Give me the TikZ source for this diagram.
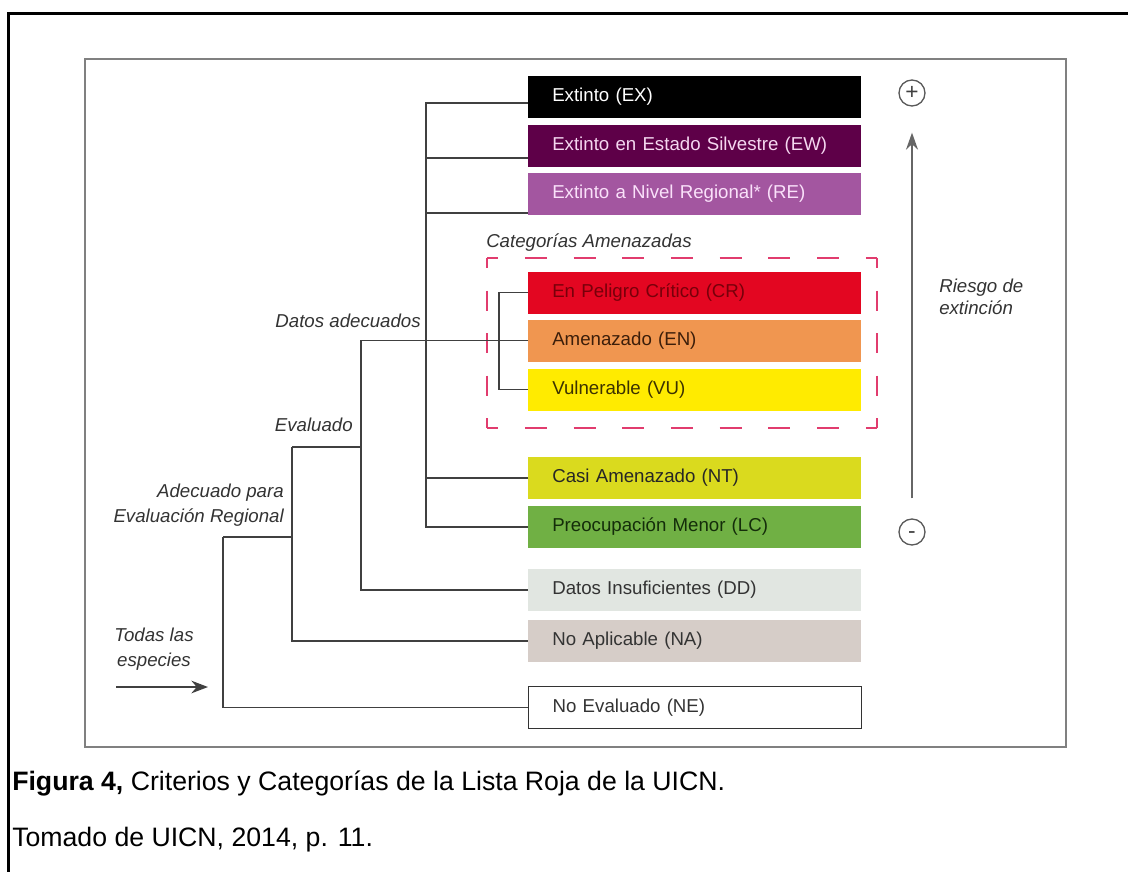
\documentclass[tikz,border=0pt]{standalone}
\usepackage{fontspec}
\setmainfont{Liberation Sans}
\usepackage{tikz}
\usetikzlibrary{calc, arrows.meta}

\definecolor{cEW}{RGB}{94,0,72}
\definecolor{cRE}{RGB}{163,86,160}
\definecolor{cCR}{RGB}{227,6,33}
\definecolor{cEN}{RGB}{240,150,80}
\definecolor{cVU}{RGB}{255,235,0}
\definecolor{cNT}{RGB}{218,218,30}
\definecolor{cLC}{RGB}{112,176,68}
\definecolor{cDD}{RGB}{225,230,225}
\definecolor{cNA}{RGB}{214,205,200}
\definecolor{rosa}{RGB}{225,60,110}

\tikzset{
  categoria/.style={rectangle, anchor=west, minimum width=249.75pt, minimum height=31.5pt,
    inner xsep=18pt, inner ysep=0pt, text width=213.75pt, align=left,
    font=\fontsize{14}{17}\selectfont},
  rama/.style={draw=black!75, line width=1pt},
  etiqueta/.style={font=\itshape\fontsize{14}{18.75}\selectfont, text=black!80, inner sep=0pt},
  signo/.style={circle, draw=black!65, line width=1pt, minimum size=19.5pt, inner sep=0pt,
    font=\fontsize{17}{17}\selectfont, text=black!75},
  amenazah/.style={draw=rosa, line width=1.1pt, dash pattern=on 16.5pt off 20.06pt, dash phase=8.25pt},
  amenazav/.style={draw=rosa, line width=1.1pt, dash pattern=on 15pt off 16.875pt, dash phase=7.5pt}
}

\begin{document}
\begin{tikzpicture}[x=0.75pt, y=-0.75pt]
	\useasboundingbox (0,0) rectangle (1128,872);
	
	%frames
	\draw[black, line width=2.25pt] (1128,13) -- (8,13) -- (8,872);
	\draw[black!50, line width=1.5pt] (85,59) rectangle (1066,747);
	
	%threatened group
	\coordinate (g1) at (487,258);
	\coordinate (g2) at (877,258);
	\coordinate (g3) at (877,428);
	\coordinate (g4) at (487,428);
	\draw[amenazah] (g1) -- (g2);
	\draw[amenazah] (g4) -- (g3);
	\draw[amenazav] (g1) -- (g4);
	\draw[amenazav] (g2) -- (g3);
	\node[etiqueta, anchor=west] (amen) at (486,243) {Categorías Amenazadas};
	
	%categories
	\node[categoria, fill=black, text=white]          (ex) at (528,97)    {Extinto (EX)};
	\node[categoria, fill=cEW, text={rgb,255:red,245;green,215;blue,240}] (ew) at (528,145.5) {Extinto en Estado Silvestre (EW)};
	\node[categoria, fill=cRE, text={rgb,255:red,250;green,225;blue,250}] (re) at (528,194)   {Extinto a Nivel Regional* (RE)};
	\node[categoria, fill=cCR, text={rgb,255:red,120;green,0;blue,10}]    (cr) at (528,292.5) {En Peligro Crítico (CR)};
	\node[categoria, fill=cEN, text={rgb,255:red,60;green,30;blue,10}]    (en) at (528,340.5) {Amenazado (EN)};
	\node[categoria, fill=cVU, text={rgb,255:red,60;green,50;blue,0}]     (vu) at (528,389.5) {Vulnerable (VU)};
	\node[categoria, fill=cNT, text=black!85]         (nt) at (528,478)   {Casi Amenazado (NT)};
	\node[categoria, fill=cLC, text={rgb,255:red,20;green,45;blue,10}]    (lc) at (528,527)   {Preocupación Menor (LC)};
	\node[categoria, fill=cDD, text=black!80]         (dd) at (528,590)   {Datos Insuficientes (DD)};
	\node[categoria, fill=cNA, text=black!80]         (na) at (528,641)   {No Aplicable (NA)};
	\node[categoria, fill=white, draw=black!80, line width=1pt, text=black!80] (ne) at (528,707.5) {No Evaluado (NE)};
	
	%tree lines
	\coordinate (jdat) at (426,0);
	\coordinate (pex) at ([yshift=-4.5pt]ex.west);
	\coordinate (pew) at ([yshift=-9.4pt]ew.west);
	\coordinate (pre) at ([yshift=-14.25pt]re.west);
	\draw[rama] (pex) -| (jdat |- lc.west) -- (lc.west);
	\draw[rama] (pew) -- (jdat |- pew);
	\draw[rama] (pre) -- (jdat |- pre);
	\draw[rama] (nt.west) -- (jdat |- nt.west);
	
	\coordinate (jame) at (499,0);
	\draw[rama] (cr.west) -| (jame |- vu.west) -- (vu.west);
	
	\coordinate (jeva) at (361,0);
	\draw[rama] (en.west) -- (jeva |- en.west) |- (dd.west);
	
	\coordinate (jade) at (292,447);
	\draw[rama] (jade) -- (jade -| jeva);
	\draw[rama] (jade) |- (na.west);
	
	\coordinate (jtod) at (223,537);
	\draw[rama] (jtod) -- (jtod -| jade);
	\draw[rama] (jtod) |- (ne.west);
	
	%branch labels
	\node[etiqueta, anchor=east] (datos) at (421,321) {Datos adecuados};
	\node[etiqueta, anchor=east] (eval) at (353,425) {Evaluado};
	\node[etiqueta, anchor=east, align=right] (adec) at (284,505) {Adecuado para\\Evaluación Regional};
	\node[etiqueta, align=center] (todas) at (154,649) {Todas las\\especies};
	
	%entry arrow
	\coordinate (ent) at (116,687);
	\coordinate (sal) at (208,687);
	\draw[rama, -{Stealth[length=12.5pt, width=9.5pt]}] (ent) -- (sal);
	
	%risk scale
	\node[signo] (mas) at (912,93) {+};
	\node[signo] (menos) at (912,532) {\vphantom{+}-};
	\draw[black!60, line width=1.1pt, -{Stealth[length=12.75pt, width=9pt]}, shorten <=15pt, shorten >=19.5pt] (menos.north) -- (mas.south);
	\node[etiqueta, anchor=west, align=left, font=\itshape\fontsize{14}{16.5}\selectfont] (riesgo) at (939,297) {Riesgo de\\extinción};
	
	%caption
	\node[anchor=west, inner sep=0pt, font=\fontsize{20}{24}\selectfont] (fig) at (12,783) {\textbf{Figura 4,} Criterios y Categorías de la Lista Roja de la UICN.};
	\node[anchor=west, inner sep=0pt, font=\fontsize{20}{24}\selectfont] (fuente) at (12,840) {Tomado de UICN, 2014, p. 11.};
\end{tikzpicture}
\end{document}
